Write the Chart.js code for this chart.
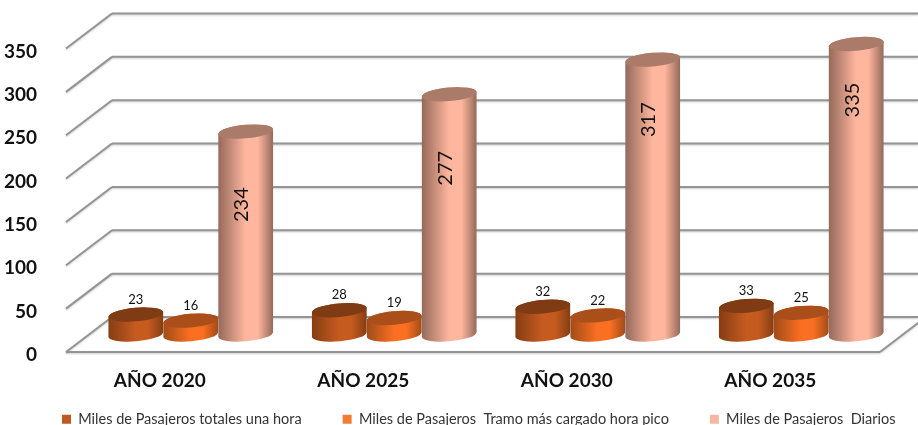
<!DOCTYPE html>
<html>
<head>
<meta charset="utf-8">
<style>
  html, body { margin: 0; padding: 0; background: #fff; overflow: hidden; }
  canvas { display: block; }
</style>
<script src="https://cdn.jsdelivr.net/npm/chart.js@4"></script>
</head>
<body>
<canvas id="grafico" width="918" height="425"></canvas>
<script>
// Datos
const anios = ['AÑO 2020', 'AÑO 2025', 'AÑO 2030', 'AÑO 2035'];
const totalesHora = [23, 28, 32, 33];
const tramoCargado = [16, 19, 22, 25];
const diarios = [234, 277, 317, 335];
const nombres = ['Miles de Pasajeros totales una hora', 'Miles de Pasajeros  Tramo más cargado hora pico', 'Miles de Pasajeros  Diarios'];

// Colores: leyenda, borde, centro y tapa de cada cilindro
const colorLeyenda = ['#c0591f', '#f07d33', '#f4b79f'];
const colorBorde = ['#853d13', '#a04c18', '#94695a'];
const colorCentro = ['#c65b20', '#fb6f22', '#ffb69e'];
const colorTapa = ['#7f3b14', '#ab4f1a', '#ab7b69'];

// Profundidad de la caja 3D en pixeles
const fondoX = 46;
const fondoY = -35;
// Bajada de la etiqueta girada desde la tapa del cilindro claro
const bajadaEtiqueta = [73, 74, 60, 56];

function lineaGris(ctx, x1, y1, x2, y2) {
    ctx.beginPath();
    ctx.moveTo(x1, y1);
    ctx.lineTo(x2, y2);
    ctx.stroke();
}

function dibujarRejilla(chart) {
    const ctx = chart.ctx;
    const area = chart.chartArea;
    const y = chart.scales.y;
    ctx.save();
    ctx.strokeStyle = '#949494';
    ctx.lineWidth = 2;
    ctx.shadowColor = 'rgba(0,0,0,0.2)';
    ctx.shadowBlur = 2;
    ctx.shadowOffsetY = 1;
    y.ticks.forEach(t => {
        const py = y.getPixelForValue(t.value);
        lineaGris(ctx, area.left, py, area.left + fondoX, py + fondoY);
        lineaGris(ctx, area.left + fondoX, py + fondoY, chart.width, py + fondoY);
    });
    // piso
    lineaGris(ctx, area.left, area.bottom, area.right, area.bottom);
    lineaGris(ctx, area.right, area.bottom, area.right + fondoX, area.bottom + fondoY);
    ctx.restore();
}

function dibujarCilindro(ctx, barra, i) {
    const rx = barra.width / 2;
    const ry = 6.8;
    const giro = -5 * Math.PI / 180;
    const cx = barra.x + fondoX / 2;
    const arriba = barra.y + fondoY / 2;
    const abajo = barra.base + fondoY / 2;

    const grad = ctx.createLinearGradient(cx - rx, 0, cx + rx, 0);
    grad.addColorStop(0, colorBorde[i]);
    grad.addColorStop(0.5, colorCentro[i]);
    grad.addColorStop(0.72, colorCentro[i]);
    grad.addColorStop(1, colorBorde[i]);

    ctx.beginPath();
    ctx.ellipse(cx, abajo, rx, ry, giro, Math.PI, 0, true);
    ctx.ellipse(cx, arriba, rx, ry, giro, 0, Math.PI, true);
    ctx.closePath();
    ctx.fillStyle = grad;
    ctx.fill();

    ctx.beginPath();
    ctx.ellipse(cx, arriba, rx, ry, giro, 0, Math.PI * 2);
    ctx.fillStyle = colorTapa[i];
    ctx.fill();
}

function dibujarEtiquetas(chart) {
    const ctx = chart.ctx;
    ctx.save();
    ctx.fillStyle = '#111';
    ctx.textAlign = 'center';
    ctx.textBaseline = 'middle';
    chart.data.datasets.forEach((ds, i) => {
        chart.getDatasetMeta(i).data.forEach((barra, j) => {
            const cx = barra.x + fondoX / 2;
            const arriba = barra.y + fondoY / 2;
            if (i === 2) {
                ctx.save();
                ctx.translate(cx - 4, arriba + bajadaEtiqueta[j]);
                ctx.rotate(-Math.PI / 2);
                ctx.font = '20px Lato';
                ctx.fillText(ds.data[j], 0, 0);
                ctx.restore();
            } else {
                ctx.font = '13px Lato';
                ctx.fillText(ds.data[j], cx, arriba - 15);
            }
        });
    });
    ctx.restore();
}

// Dibuja la caja y los cilindros en lugar de las barras planas
const cilindros3d = {
    id: 'cilindros3d',
    beforeInit(chart) {
        // el padding grande de la leyenda no debe quitarle alto ni partirla en dos filas
        const fit = chart.legend.fit;
        chart.legend.fit = function () {
            this.maxWidth = 1200;
            fit.call(this);
            this.height = 33;
        };
    },
    afterLayout(chart) {
        // la leyenda no esta centrada en el original
        chart.legend.top = 371;
        chart.legend.left = 21;
        chart.legend.right = 1200;
    },
    beforeDatasetsDraw(chart) {
        dibujarRejilla(chart);
        chart.data.datasets.forEach((ds, i) => {
            chart.getDatasetMeta(i).data.forEach(barra => dibujarCilindro(chart.ctx, barra, i));
        });
        dibujarEtiquetas(chart);
        return false;
    }
};

new Chart(document.getElementById('grafico').getContext('2d'), {
    type: 'bar',
    plugins: [cilindros3d],
    data: {
        labels: anios,
        datasets: [
            { label: nombres[0], data: totalesHora, backgroundColor: colorLeyenda[0] },
            { label: nombres[1], data: tramoCargado, backgroundColor: colorLeyenda[1] },
            { label: nombres[2], data: diarios, backgroundColor: colorLeyenda[2] }
        ]
    },
    options: {
        responsive: false,
        animation: false,
        datasets: { bar: { categoryPercentage: 0.81, barPercentage: 1 } },
        layout: { padding: { top: 48.5, right: 38, left: 0, bottom: 0 } },
        plugins: {
            tooltip: { enabled: false },
            legend: {
                position: 'bottom',
                align: 'start',
                labels: {
                    boxWidth: 9,
                    boxHeight: 9,
                    padding: 41,
                    color: '#333',
                    font: { family: 'Lato', size: 14.5 }
                }
            }
        },
        scales: {
            x: {
                grid: { display: false },
                border: { display: false },
                afterFit(scale) { scale.height = 40; },
                ticks: {
                    padding: 9,
                    labelOffset: -8,
                    maxRotation: 0,
                    color: '#111',
                    font: { family: 'Lato', size: 19, weight: 'bold' }
                }
            },
            y: {
                min: 0,
                max: 350,
                grid: { display: false },
                border: { display: false },
                afterFit(scale) { scale.width = 66; },
                ticks: {
                    stepSize: 50,
                    padding: 21,
                    labelOffset: 3,
                    color: '#111',
                    font: { family: 'Lato', size: 19, weight: 'bold' }
                }
            }
        }
    }
});
</script>
</body>
</html>
